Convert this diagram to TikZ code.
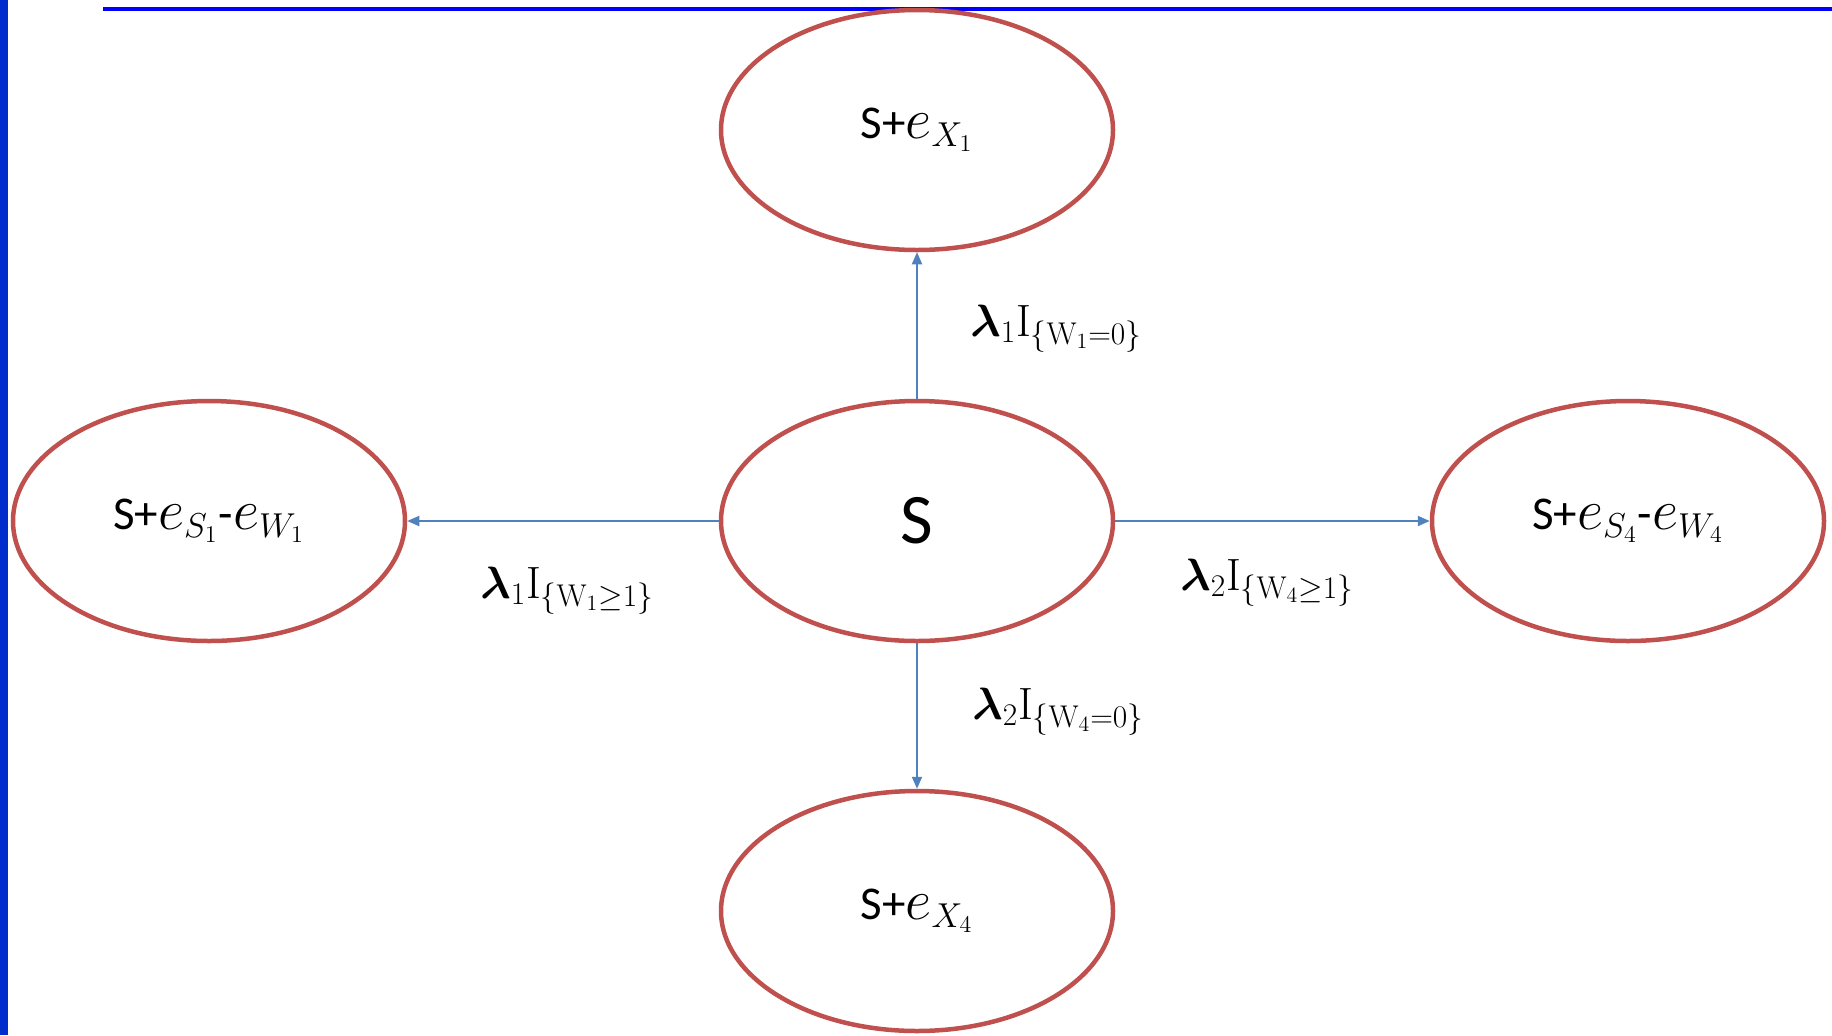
\documentclass[tikz,border=0pt]{standalone}
\usepackage{amsmath}
\usepackage{bm}
\usepackage[no-math]{fontspec}
\setmainfont{Carlito}
\usetikzlibrary{shapes.geometric,arrows.meta}
\definecolor{ringred}{RGB}{192,80,77}
\definecolor{flowblue}{RGB}{79,129,189}
\definecolor{barblue}{RGB}{0,45,204}
\definecolor{ruleblue}{RGB}{0,0,255}
\tikzset{
  state/.style={ellipse, draw=ringred, line width=2.25pt, fill=white,
    minimum width=196pt, minimum height=120pt, inner sep=0pt,
    font=\fontsize{23.5}{28}\selectfont},
  flow/.style={draw=flowblue, line width=1pt, -{Triangle[length=6pt,width=5pt]}},
  rate/.style={anchor=base west, inner sep=0pt, font=\fontsize{25}{30}\selectfont}
}
\newcommand{\ev}[1]{\scalebox{1.15}{$e$}$_{#1}$}
\newcommand{\ratetext}[1]{\scalebox{0.91}{$#1$}}
\begin{document}
\begin{tikzpicture}[x=0.5pt, y=-0.5pt]
  \useasboundingbox (0,0) rectangle (1832,1035);
  % frame accents
  \fill[barblue] (0,0) rectangle (8,1035);
  \draw[ruleblue, line width=2pt] (103,9) -- (1832,9);
  % states
  \node[state] (S)  at (917,521) {\fontsize{35.5}{40}\selectfont S};
  \node[state] (X1) at (917,130) {S+\ev{X_1}};
  \node[state] (X4) at (917,911) {S+\ev{X_4}};
  \node[state] (W1) at (209,521) {S+\ev{S_1}-\ev{W_1}};
  \node[state] (W4) at (1628,521) {S+\ev{S_4}-\ev{W_4}};
  % transitions
  \draw[flow] (S.north) -- (X1.south);
  \draw[flow] (S.south) -- (X4.north);
  \draw[flow] (S.west) -- (W1.east);
  \draw[flow] (S.east) -- (W4.west);
  % rates
  \node[rate] (r1) at (970,336) {\ratetext{\bm{\lambda}_1\mathrm{I}_{\{\mathrm{W}_1=0\}}}};
  \node[rate] (r2) at (480,598) {\ratetext{\bm{\lambda}_1\mathrm{I}_{\{\mathrm{W}_1\geq 1\}}}};
  \node[rate] (r3) at (1180,590) {\ratetext{\bm{\lambda}_2\mathrm{I}_{\{\mathrm{W}_4\geq 1\}}}};
  \node[rate] (r4) at (972,719) {\ratetext{\bm{\lambda}_2\mathrm{I}_{\{\mathrm{W}_4=0\}}}};
\end{tikzpicture}
\end{document}
